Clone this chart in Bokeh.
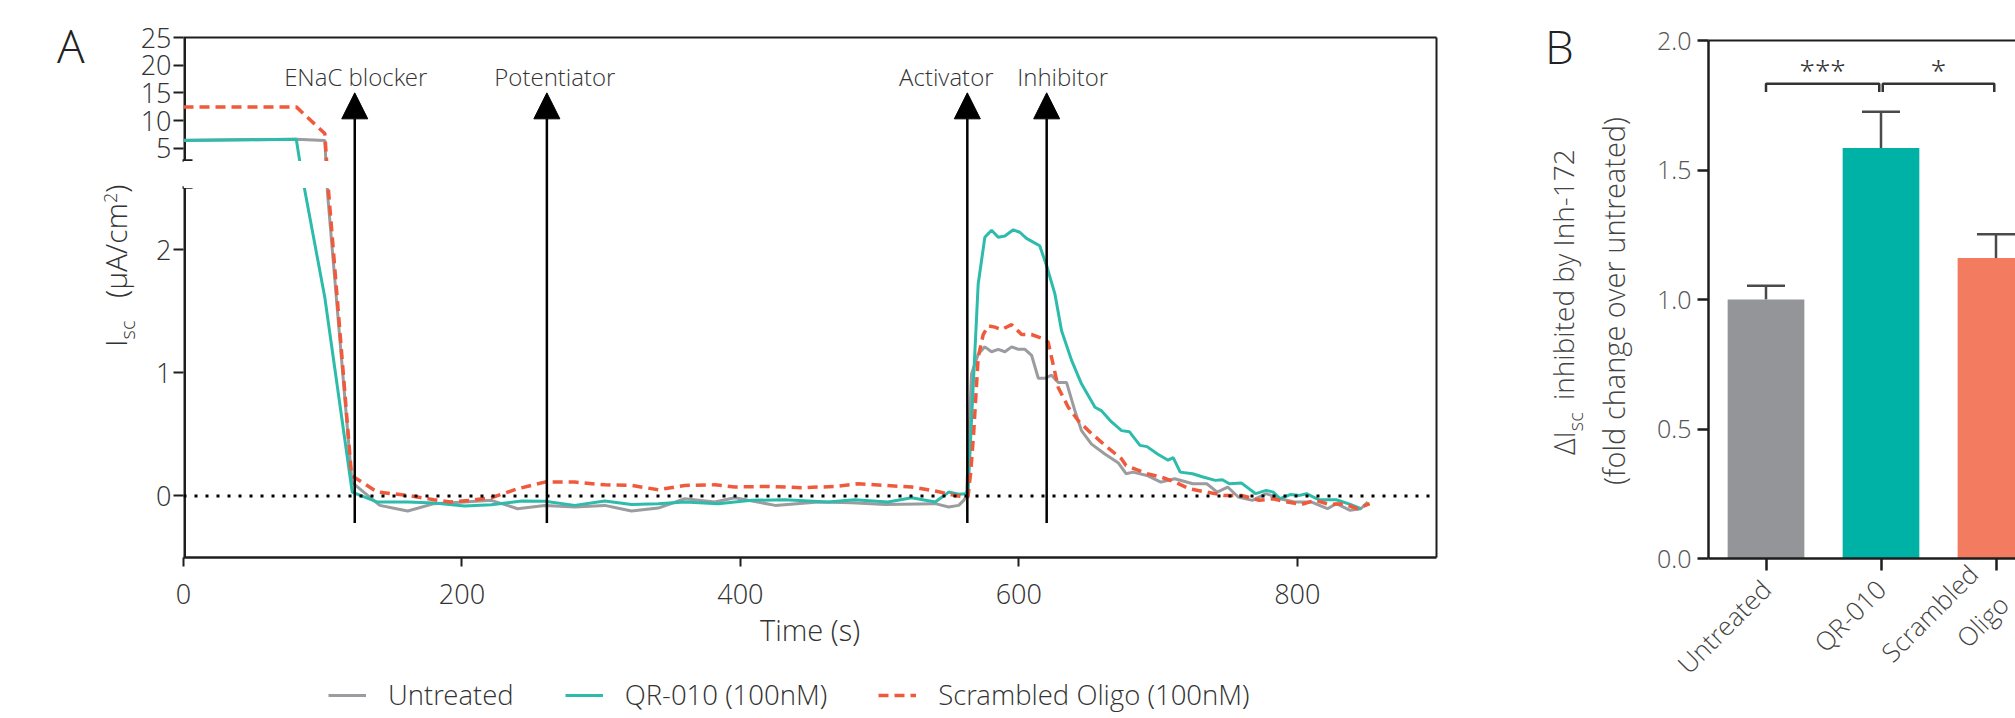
import math
from bokeh.plotting import figure
from bokeh.models import (ColumnDataSource, Range1d, LinearAxis, FixedTicker,
                          CustomJSTransform, Arrow, NormalHead, Span, BoxAnnotation, Legend,
                          LegendItem, Whisker, TeeHead, NumeralTickFormatter, Div)
from bokeh.transform import transform
from bokeh.core.properties import value
from bokeh.layouts import row, column
from bokeh.embed import file_html
from bokeh.resources import INLINE

# ---------------- data: panel A (Isc traces) ----------------
t_untreated = [0, 81, 101.5, 103.5, 121, 141, 161, 180, 202, 221, 240, 259.5, 281, 302.6, 321.8, 341,
               360, 381.6, 396, 425, 456, 480, 504, 540, 549.6, 556.8, 560.4, 562.5, 564, 566, 570.8,
               575.6, 580.4, 585.2, 590, 594.8, 599.6, 604.4, 609.2, 614, 618.8, 623.5, 628.3, 634.3,
               640.3, 645, 652.2, 661.8, 671.3, 677, 682, 692, 702, 712, 725, 735, 742.5, 750, 757.6,
               767.7, 777.7, 787.7, 797.8, 810.4, 821.7, 828, 838, 845.6, 850.6]
v_untreated = [6.45, 6.6, 6.4, 2.45, 0.11, -0.077, -0.123, -0.063, -0.05, -0.036, -0.104, -0.077, -0.09,
               -0.077, -0.123, -0.099, -0.023, -0.05, -0.015, -0.077, -0.05, -0.055, -0.069, -0.063,
               -0.09, -0.077, -0.036, 0.0, 0.45, 0.99, 1.15, 1.21, 1.17, 1.19, 1.17, 1.21, 1.19, 1.19,
               1.14, 0.955, 0.955, 0.98, 0.92, 0.92, 0.69, 0.53, 0.42, 0.34, 0.27, 0.18, 0.193, 0.166,
               0.112, 0.139, 0.099, 0.099, 0.031, 0.072, -0.009, -0.036, 0.018, -0.023, -0.05, -0.05,
               -0.104, -0.063, -0.117, -0.104, -0.05]

t_qr010 = [0, 81, 85, 101.5, 121.2, 139.3, 161, 180, 202, 221, 243, 259.5, 281, 302.6, 321.8, 341, 360,
           384, 408, 432, 463, 482, 506, 523, 540, 549.6, 556.8, 561.6, 563.6, 570.8, 575.6, 580.4,
           585.2, 590, 596, 600.7, 605.5, 610.3, 615, 619.9, 625.9, 630.7, 637.9, 645, 654.7, 659.5,
           666.6, 673.8, 679.5, 687, 692.1, 699.6, 707.2, 710.9, 715.9, 724.8, 732.3, 741.1, 746.2,
           751.2, 760, 770.1, 777.7, 782.7, 787.7, 795.3, 801.6, 806.6, 815.4, 828, 838.1, 845.6]
v_qr010 = [6.4, 6.6, 2.6, 1.61, 0.03, -0.05, -0.05, -0.058, -0.082, -0.071, -0.042, -0.044, -0.077,
           -0.042, -0.069, -0.063, -0.05, -0.063, -0.036, -0.031, -0.05, -0.031, -0.05, -0.015, -0.05,
           0.031, 0.013, 0.018, 0.05, 1.72, 2.10, 2.157, 2.10, 2.11, 2.16, 2.14, 2.09, 2.06, 2.03,
           1.87, 1.64, 1.34, 1.10, 0.91, 0.72, 0.69, 0.60, 0.53, 0.52, 0.41, 0.40, 0.34, 0.29, 0.31,
           0.193, 0.18, 0.153, 0.126, 0.131, 0.099, 0.104, 0.018, 0.045, 0.031, -0.023, 0.012, 0.004,
           0.018, -0.031, -0.031, -0.069, -0.104]

t_scrambled = [0, 81, 101.5, 104, 120.7, 139.3, 161, 180, 192, 206.5, 221, 240, 259.5, 281, 302.6,
               321.8, 341, 360, 381.6, 396, 420, 444, 468, 484.8, 504, 523, 540, 554, 561.5, 563.5,
               565.5, 567.5, 570.8, 574.4, 578, 582.8, 587.6, 594.8, 602, 609, 616.3, 621, 623.5,
               628.3, 635.5, 642.7, 649.9, 661.9, 673.8, 677, 692.1, 702.2, 712.2, 722.3, 734.9,
               747.5, 760, 772.6, 782.7, 792.8, 802.9, 813, 823, 833.1, 843.2, 852]
v_scrambled = [12.46, 12.46, 7.65, 2.5, 0.166, 0.031, 0.004, -0.031, -0.05, -0.036, -0.015, 0.058,
               0.112, 0.112, 0.09, 0.085, 0.05, 0.085, 0.09, 0.072, 0.077, 0.066, 0.077, 0.099, 0.085,
               0.072, 0.04, 0.004, -0.01, -0.01, 0.2, 0.5, 1.125, 1.31, 1.38, 1.37, 1.35, 1.39, 1.31,
               1.31, 1.28, 1.25, 1.125, 0.88, 0.72, 0.61, 0.53, 0.41, 0.30, 0.247, 0.18, 0.153, 0.112,
               0.058, 0.031, 0.004, 0.004, -0.036, -0.023, -0.05, -0.069, -0.036, -0.069, -0.063,
               -0.104, -0.063]

series_names = ["Untreated", "QR-010 (100nM)", "Scrambled Oligo (100nM)"]

event_times = [123, 261, 563, 620]
event_labels = ["ENaC blocker", "Potentiator", "Activator", "Inhibitor"]

x_ticks_a = [0, 200, 400, 600, 800]
y_ticks_lower = [0, 1, 2]
y_ticks_upper = [5, 10, 15, 20, 25]

# ---------------- data: panel B (bars) ----------------
bar_categories = ["Untreated", "QR-010", "Scrambled\nOligo"]
bar_values = [1.0, 1.585, 1.16]
bar_errors = [0.053, 0.14, 0.092]
sig_pairs = [(0, 1, "***"), (1, 2, "*")]
y_ticks_b = [0.0, 0.5, 1.0, 1.5, 2.0]

# ---------------- style ----------------
FONT = "Open Sans Light"
CSS_FONT = "'Open Sans Light','Open Sans',sans-serif"
TXT = "#333333"
AX = "#1e1e1e"
C_GRAY, C_TEAL, C_RED = "#9b9c9f", "#2dbcab", "#f05a3c"
BAR_COLORS = ["#949598", "#00b2a5", "#f27b60"]
LINE_STYLES = [(C_GRAY, "solid", 3), (C_TEAL, "solid", 3), (C_RED, "10 6", 3.5)]

# broken-axis mapping (lower segment -0.5..2.5, gap, upper segment 2.7..25)
LOW_TOP, UP_BOT, UP_TOP = 2.5, 2.7, 25.0
GAP, K = 0.2192, 0.04492


def brk(y):
    if y <= LOW_TOP:
        return y
    if y >= UP_BOT:
        return LOW_TOP + GAP + (y - UP_BOT) * K
    return LOW_TOP + (y - LOW_TOP) / (UP_BOT - LOW_TOP) * GAP


brk_tf = CustomJSTransform(
    args=dict(lo=LOW_TOP, hi=UP_BOT, gap=GAP, k=K),
    func="""
        if (x <= lo) return x;
        if (x >= hi) return lo + gap + (x - hi) * k;
        return lo + (x - lo) / (hi - lo) * gap;
    """,
    v_func="""
        const out = new Array(xs.length);
        for (let i = 0; i < xs.length; i++) {
            const x = xs[i];
            if (x <= lo) out[i] = x;
            else if (x >= hi) out[i] = lo + gap + (x - hi) * k;
            else out[i] = lo + (x - lo) / (hi - lo) * gap;
        }
        return out;
    """)


def abs_text(left, top, html, size, color, rotate=False, extra=""):
    rot = "transform-origin:0 0;transform:rotate(-90deg);" if rotate else ""
    return (f'<div style="position:absolute;left:{left}px;top:{top}px;{rot}white-space:nowrap;'
            f'font-family:{CSS_FONT};font-size:{size}px;line-height:1;color:{color};{extra}">{html}</div>')


def sub(txt, size, shift):
    return (f'<sub style="font-size:{size}px;vertical-align:baseline;position:relative;'
            f'top:{shift}px">{txt}</sub>')


def sup(txt, size, shift):
    return (f'<sup style="font-size:{size}px;vertical-align:baseline;position:relative;'
            f'top:{shift}px">{txt}</sup>')


def text_panel(w, h, parts):
    html = f'<div style="position:relative;width:{w}px;height:{h}px;">' + "".join(parts) + "</div>"
    return Div(text=html, width=w, height=h, margin=(0, 0, 0, 0))


# ======================= Panel A =======================
A_H = 667
pa = figure(frame_width=1253, frame_height=520, x_range=Range1d(0, 900), y_range=Range1d(-0.5, brk(UP_TOP)),
            output_backend="svg", toolbar_location=None,
            min_border_left=45, min_border_right=65, min_border_top=37, min_border_bottom=A_H - 557)
pa.outline_line_color = None
pa.grid.visible = False

# axis line segments of the broken y axis
ax_src = ColumnDataSource(dict(x0=[0, 0], y0=[-0.5, UP_BOT], x1=[0, 0], y1=[LOW_TOP, UP_TOP]))
pa.segment(x0="x0", y0=transform("y0", brk_tf), x1="x1", y1=transform("y1", brk_tf),
           source=ax_src, line_color=AX, line_width=5)

sources = [ColumnDataSource(dict(t=t, v=v)) for t, v in
           [(t_untreated, v_untreated), (t_qr010, v_qr010), (t_scrambled, v_scrambled)]]
for src, (col, dash, lw) in zip(sources, LINE_STYLES):
    pa.line("t", transform("v", brk_tf), source=src, line_color=col, line_width=lw, line_dash=dash)

pa.add_layout(Span(location=0, dimension="width", line_color="black", line_width=3, line_dash="3 8"))

# blank band of the axis break
pa.add_layout(BoxAnnotation(left=0, right=896, bottom=LOW_TOP, top=LOW_TOP + GAP,
                            fill_color="white", fill_alpha=1.0, line_color=None))

ev_src = ColumnDataSource(dict(t=event_times, y0=[-0.22] * 4, y1=[15.0] * 4, ly=[18.0] * 4,
                               label=event_labels, dx=[1, 8, -21, 16]))
pa.add_layout(Arrow(end=NormalHead(size=26, fill_color="black", line_color="black", line_width=1),
                    x_start="t", y_start=transform("y0", brk_tf), x_end="t", y_end=transform("y1", brk_tf),
                    source=ev_src, line_color="black", line_width=2.5))
pa.text(x="t", y=transform("ly", brk_tf), text="label", x_offset="dx", source=ev_src,
        text_font=value(FONT), text_font_size=value("24px"), text_color=TXT,
        text_align="center", text_baseline="middle")

# left axis (ticks only)
ya = pa.yaxis[0]
tick_pos = [round(brk(v), 6) for v in y_ticks_lower + y_ticks_upper]
ya.ticker = FixedTicker(ticks=tick_pos, minor_ticks=[round(brk(LOW_TOP), 6), round(brk(UP_BOT), 6)])
ya.major_label_overrides = {p: str(v) for p, v in zip(tick_pos, y_ticks_lower + y_ticks_upper)}
ya.axis_line_color = None
ya.major_tick_out, ya.major_tick_in = 10, 0
ya.minor_tick_out, ya.minor_tick_in = 1, 9
ya.major_tick_line_width = 2
ya.minor_tick_line_width = 2.5
ya.major_tick_line_color = AX
ya.minor_tick_line_color = AX
ya.major_label_text_font = FONT
ya.major_label_text_font_size = "27px"
ya.major_label_text_color = TXT
ya.major_label_standoff = 2

xa = pa.xaxis[0]
xa.ticker = FixedTicker(ticks=x_ticks_a)
xa.axis_label = "Time (s)"
xa.axis_label_text_font = FONT
xa.axis_label_text_font_size = "29px"
xa.axis_label_text_font_style = "normal"
xa.axis_label_text_color = TXT
xa.axis_label_standoff = 3
xa.axis_line_width = 2.5
xa.axis_line_color = AX
xa.major_tick_out, xa.major_tick_in = 9, 0
xa.major_tick_line_width = 2
xa.major_tick_line_color = AX
xa.major_label_text_font = FONT
xa.major_label_text_font_size = "27px"
xa.major_label_text_color = TXT
xa.major_label_standoff = 17

for side in ("right", "above"):
    ax = LinearAxis(ticker=FixedTicker(ticks=[]), axis_line_width=2, axis_line_color=AX,
                    major_tick_line_color=None, minor_tick_line_color=None,
                    major_label_text_font_size="0px")
    pa.add_layout(ax, side)

# texts left of panel A: panel letter and rotated y-axis title
divA = text_panel(137, A_H, [
    abs_text(57, 22.1, "A", 46, "#222222"),
    abs_text(100.5, 346.7, "I" + sub("sc", 20, 8), 30, TXT, rotate=True),
    abs_text(100.5, 297.5, "(\u03bcA/cm" + sup("2", 18, -10) + ")", 30, TXT, rotate=True),
])

# legend strip below panel A (its key glyphs use the series sources, outside the strip's ranges)
lg = figure(width=1500, height=718 - A_H, x_range=Range1d(0, 1), y_range=Range1d(1000, 1001),
            output_backend="svg", toolbar_location=None, x_axis_location=None, y_axis_location=None,
            min_border=0)
lg.outline_line_color = None
lg.grid.visible = False
keys = [lg.line("t", "v", source=src, line_color=c, line_dash=d, line_width=w)
        for src, (c, d, w) in zip(sources, LINE_STYLES)]
legend = Legend(items=[LegendItem(label=n, renderers=[r]) for n, r in zip(series_names, keys)],
                orientation="horizontal", location=(328, 5),
                label_text_font=FONT, label_text_font_size="27.5px", label_text_color=TXT,
                glyph_width=38, glyph_height=20, label_standoff=22, spacing=51,
                padding=2, margin=0, border_line_color=None, background_fill_alpha=0)
lg.add_layout(legend)

# ======================= Panel B =======================
pb = figure(frame_width=308, frame_height=518, x_range=Range1d(0, 308 / 115), y_range=Range1d(0, 2.0),
            output_backend="svg", toolbar_location=None,
            min_border_left=67, min_border_right=0, min_border_top=40, min_border_bottom=160)
pb.outline_line_color = None
pb.grid.visible = False

xpos = [i + 0.5 for i in range(len(bar_categories))]
bsrc = ColumnDataSource(dict(x=xpos, v=bar_values, up=[v + e for v, e in zip(bar_values, bar_errors)],
                             color=BAR_COLORS))
pb.vbar(x="x", top="v", width=0.667, source=bsrc, fill_color="color", line_color=None)
pb.add_layout(Whisker(source=bsrc, base="x", lower="v", upper="up", dimension="height",
                      upper_head=TeeHead(size=38, line_color="#4a4a4a", line_width=2.5), lower_head=None,
                      line_color="#4a4a4a", line_width=2.5))

BR_Y, BR_LEG, INSET, STAR_Y = 1.833, 0.032, 0.015, 1.885
bxs, bys, sx, sy, stxt = [], [], [], [], []
for i, j, s in sig_pairs:
    x0 = xpos[i] + (INSET if i > 0 else 0)
    x1 = xpos[j] - INSET
    bxs.append([x0, x0, x1, x1])
    bys.append([BR_Y - BR_LEG, BR_Y, BR_Y, BR_Y - BR_LEG])
    sx.append((x0 + x1) / 2)
    sy.append(STAR_Y)
    stxt.append(s)
pb.multi_line(xs=bxs, ys=bys, line_color="#333333", line_width=2.5)
pb.text(x=sx, y=sy, text=stxt, text_font=value(FONT), text_font_size=value("28px"),
        text_color=TXT, text_align="center", text_baseline="middle")

yb = pb.yaxis[0]
yb.ticker = FixedTicker(ticks=y_ticks_b)
yb.formatter = NumeralTickFormatter(format="0.0")
yb.axis_line_width = 2.5
yb.axis_line_color = AX
yb.major_tick_out, yb.major_tick_in = 11, 0
yb.major_tick_line_width = 2.5
yb.major_tick_line_color = AX
yb.minor_tick_line_color = None
yb.major_label_text_font = FONT
yb.major_label_text_font_size = "25px"
yb.major_label_text_color = "#555555"
yb.major_label_standoff = 6

xb = pb.xaxis[0]
xb.ticker = FixedTicker(ticks=xpos)
xb.major_label_overrides = {p: c for p, c in zip(xpos, bar_categories)}
xb.major_label_orientation = math.pi / 4
xb.axis_line_width = 2.5
xb.axis_line_color = AX
xb.major_tick_out, xb.major_tick_in = 12, 0
xb.major_tick_line_width = 2.5
xb.major_tick_line_color = AX
xb.major_label_text_font = FONT
xb.major_label_text_font_size = "26px"
xb.major_label_text_color = "#444444"
xb.major_label_standoff = 14

top_b = LinearAxis(ticker=FixedTicker(ticks=[]), axis_line_width=2, axis_line_color=AX,
                   major_tick_line_color=None, minor_tick_line_color=None, major_label_text_font_size="0px")
pb.add_layout(top_b, "above")

# texts left of panel B (page x offset 1500)
divB = text_panel(140, 718, [
    abs_text(44, 23.1, "B", 46, "#222222"),
    abs_text(47.8, 455, "\u0394I" + sub("sc", 20, 8), 29, "#444444", rotate=True),
    abs_text(47.8, 400, "inhibited by Inh-172", 28, "#444444", rotate=True),
    abs_text(98.2, 551, "(fold change over untreated)", 29, "#444444", rotate=True,
             extra="width:500px;text-align:center;"),
])

layout = row(column(row(divA, pa), lg), row(divB, pb))
open("out.html", "w").write(file_html(layout, INLINE))
